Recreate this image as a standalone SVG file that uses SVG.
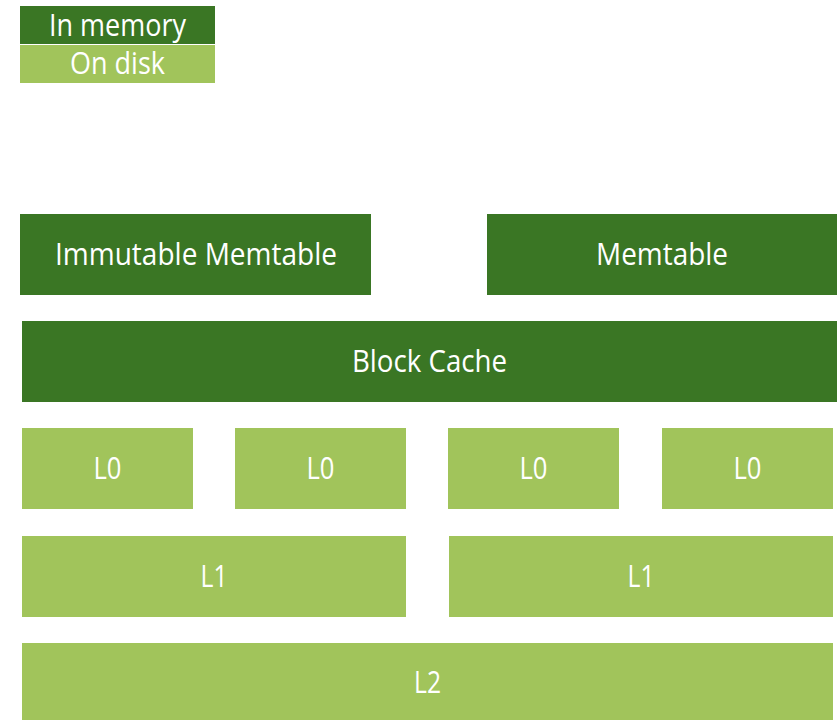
<svg xmlns="http://www.w3.org/2000/svg" width="837" height="720" viewBox="0 0 837 720">
  <style>
    .mem { fill: #3A7624; }
    .disk { fill: #A1C45B; }
    .lbl { fill: #FFFFFF; font-family: "Open Sans", "Noto Sans", "Liberation Sans", sans-serif; font-size: 30.5px; text-anchor: middle; }
  </style>
  <rect width="837" height="720" fill="#FFFFFF"/>

  <!-- Legend -->
  <g id="legend-memory">
    <rect class="mem" x="20" y="6" width="195" height="38"/>
    <text class="lbl" x="117.5" y="36" textLength="137" lengthAdjust="spacingAndGlyphs">In memory</text>
  </g>
  <g id="legend-disk">
    <rect class="disk" x="20" y="45" width="195" height="38"/>
    <text class="lbl" x="117.5" y="74" textLength="95" lengthAdjust="spacingAndGlyphs">On disk</text>
  </g>

  <!-- In-memory structures -->
  <g id="immutable-memtable">
    <rect class="mem" x="20" y="214" width="351" height="81"/>
    <text class="lbl" x="196" y="265" textLength="282" lengthAdjust="spacingAndGlyphs">Immutable Memtable</text>
  </g>
  <g id="memtable">
    <rect class="mem" x="487" y="214" width="350" height="81"/>
    <text class="lbl" x="662" y="265" textLength="132" lengthAdjust="spacingAndGlyphs">Memtable</text>
  </g>
  <g id="block-cache">
    <rect class="mem" x="22" y="321" width="815" height="81"/>
    <text class="lbl" x="429.5" y="372" textLength="155" lengthAdjust="spacingAndGlyphs">Block Cache</text>
  </g>

  <!-- Level 0 files -->
  <g id="l0-a">
    <rect class="disk" x="22" y="428" width="171" height="81"/>
    <text class="lbl" x="107.5" y="479" textLength="28" lengthAdjust="spacingAndGlyphs">L0</text>
  </g>
  <g id="l0-b">
    <rect class="disk" x="235" y="428" width="171" height="81"/>
    <text class="lbl" x="320.5" y="479" textLength="28" lengthAdjust="spacingAndGlyphs">L0</text>
  </g>
  <g id="l0-c">
    <rect class="disk" x="448" y="428" width="171" height="81"/>
    <text class="lbl" x="533.5" y="479" textLength="28" lengthAdjust="spacingAndGlyphs">L0</text>
  </g>
  <g id="l0-d">
    <rect class="disk" x="662" y="428" width="171" height="81"/>
    <text class="lbl" x="747.5" y="479" textLength="28" lengthAdjust="spacingAndGlyphs">L0</text>
  </g>

  <!-- Level 1 files -->
  <g id="l1-a">
    <rect class="disk" x="22" y="536" width="384" height="81"/>
    <text class="lbl" x="214" y="587" textLength="27" lengthAdjust="spacingAndGlyphs">L1</text>
  </g>
  <g id="l1-b">
    <rect class="disk" x="449" y="536" width="384" height="81"/>
    <text class="lbl" x="641" y="587" textLength="27" lengthAdjust="spacingAndGlyphs">L1</text>
  </g>

  <!-- Level 2 -->
  <g id="l2">
    <rect class="disk" x="22" y="643" width="811" height="77"/>
    <text class="lbl" x="427.5" y="693" textLength="27" lengthAdjust="spacingAndGlyphs">L2</text>
  </g>
</svg>
